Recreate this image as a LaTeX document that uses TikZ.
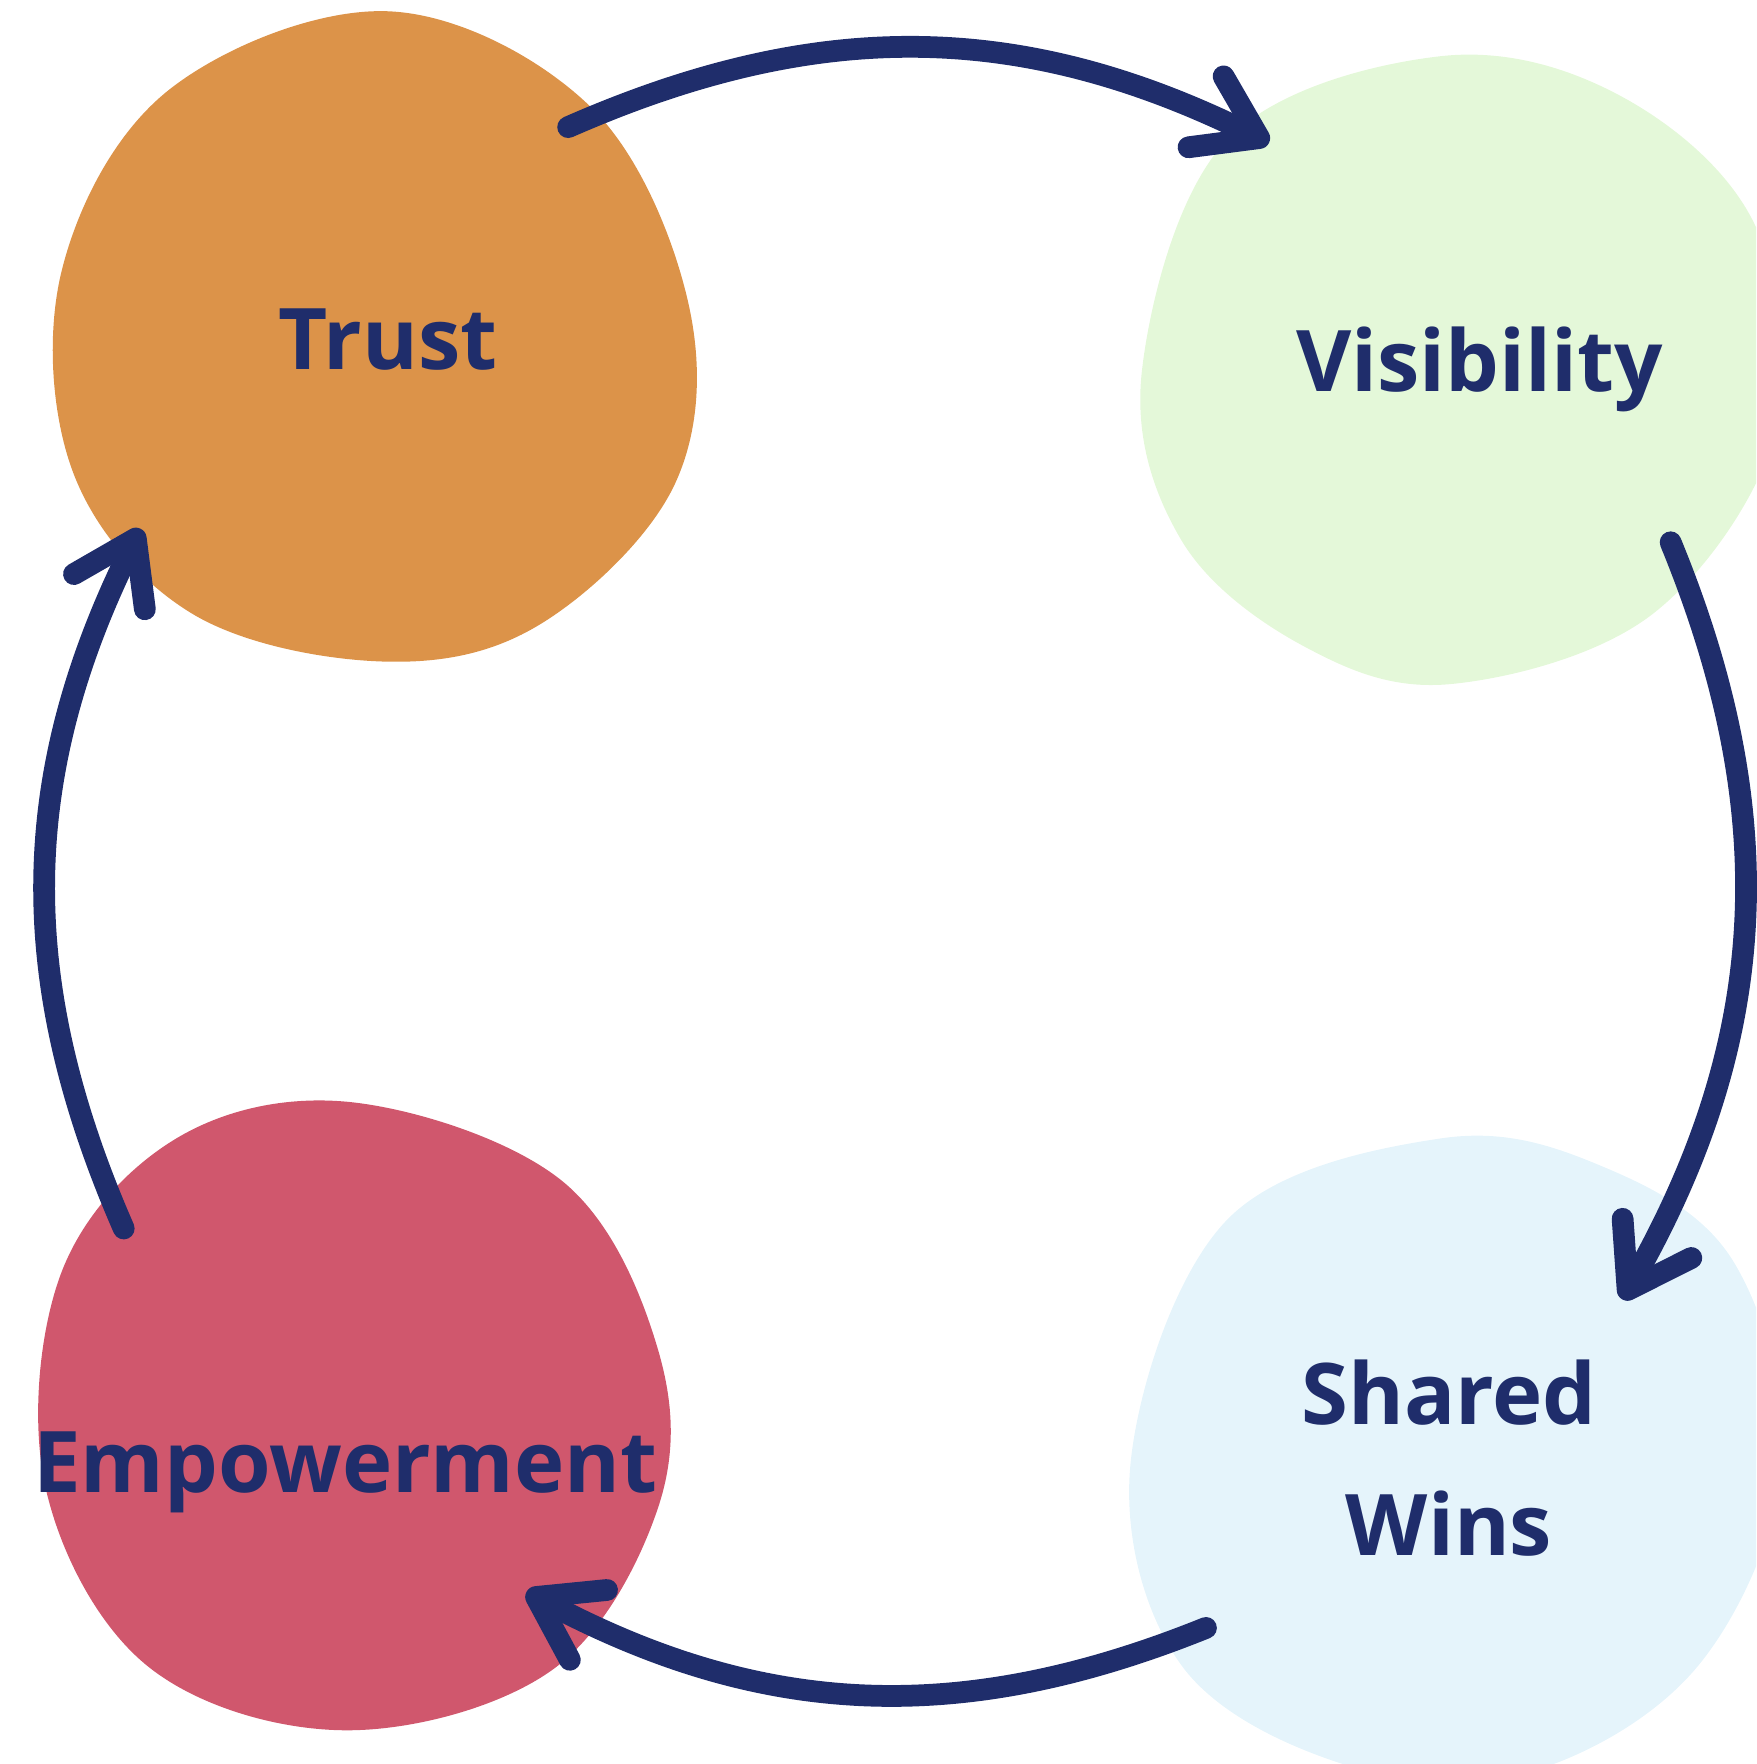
\documentclass[tikz,border=0pt]{standalone}
\usepackage{fontspec}
\setmainfont{Open Sans}
\usetikzlibrary{arrows.meta}
\definecolor{navy}{HTML}{1F2D6B}
\definecolor{trustc}{HTML}{DC9349}
\definecolor{visc}{HTML}{E4F8D9}
\definecolor{winsc}{HTML}{E5F4FB}
\definecolor{empc}{HTML}{D0576D}

\begin{document}
\begin{tikzpicture}[x=0.01cm,y=-0.01cm,
		blob/.style={smooth cycle,tension=0.6},
		lbl/.style={font=\fontsize{21.5}{33}\selectfont\bfseries,text=navy,inner sep=0pt,align=center},
		cyc/.style={draw=navy,line width=5.5pt,line cap=round,-{Straight Barb[length=15pt,width=20pt,round]}}]
		\useasboundingbox (0,0) rectangle (1561,1568);
		\begin{scope}
		\clip (0,0) rectangle (1561,1568);
		\fill[trustc] plot[blob] coordinates {(345,10) (525,95) (612,270) (600,430) (480,555) (340,588) (170,545) (65,420) (55,240) (150,80)};
		\fill[visc] plot[blob] coordinates {(1280,50) (1090,125) (1015,330) (1050,480) (1160,575) (1290,608) (1470,545) (1580,380) (1560,200) (1440,85)};
		\fill[winsc] plot[blob] coordinates {(1280,1012) (1090,1085) (1005,1300) (1050,1480) (1200,1570) (1360,1575) (1510,1480) (1585,1300) (1540,1120) (1420,1035)};
		\fill[empc] plot[blob] coordinates {(315,980) (500,1050) (585,1200) (585,1340) (490,1485) (305,1538) (130,1480) (40,1320) (55,1130) (160,1010)};
		\end{scope}
		
		\node[lbl,anchor=base] (trust) at (345,328) {Trust};
		\node[lbl,anchor=base] (vis)   at (1315,348) {Visibility};
		\node[lbl] (wins)  at (1288,1296) {Shared\\Wins};
		\node[lbl,anchor=base] (emp)   at (307,1327) {Empowerment};
		
		\coordinate (trustout) at (505,113);
		\coordinate (visin)    at (1128,127);
		\coordinate (visout)   at (1485,482);
		\coordinate (winsin)   at (1442,1155);
		\coordinate (winsout)  at (1072,1447);
		\coordinate (empin)    at (468,1415);
		\coordinate (empout)   at (110,1092);
		\coordinate (trustin)  at (125,470);
		
		\draw[cyc] (trustout) to[bend left=25] (visin);
		\draw[cyc] (visout) to[bend left=26] (winsin);
		\draw[cyc] (winsout) to[bend left=25] (empin);
		\draw[cyc] (empout) to[bend left=25] (trustin);
\end{tikzpicture}
\end{document}
